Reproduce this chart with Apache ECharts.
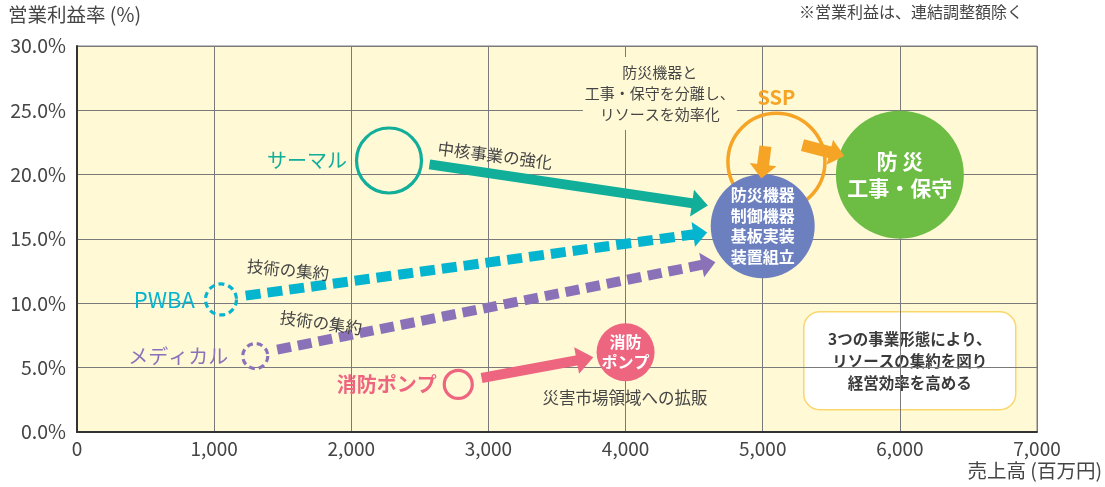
<!DOCTYPE html>
<html>
<head>
<meta charset="utf-8">
<script src="https://cdn.jsdelivr.net/npm/echarts@6/dist/echarts.min.js"></script>
<style>
  html, body { margin: 0; padding: 0; background: #ffffff; }
  #chart { width: 1105px; height: 487px; }
</style>
</head>
<body>
<div id="chart"></div>
<script>
// ---- 事業セグメントの位置：売上高 (百万円) / 営業利益率 (%) ----
const segmentNames  = ['サーマル', 'PWBA', 'メディカル', '消防ポンプ'];
const segmentSales  = [2275, 1050, 1300, 2780];
const segmentMargin = [21.1, 10.3, 5.9, 3.7];

// 集約先の事業形態
const hubNames  = ['防災機器\n制御機器\n基板実装\n装置組立', '防 災\n工事・保守', '消防\nポンプ'];
const hubSales  = [5000, 6000, 4000];
const hubMargin = [16.0, 20.0, 6.2];

// SSP の輪
const sspSales  = [5100];
const sspMargin = [21.0];

// 矢印（始点 → 終点）
const arrowFromSales  = [2570, 1230, 1460, 2950, 5020, 5290];
const arrowFromMargin = [20.8, 10.6, 6.4, 4.2, 22.2, 22.3];
const arrowToSales    = [4600, 4595, 4655, 3765, 4990, 5595];
const arrowToMargin   = [17.6, 15.5, 13.2, 5.8, 19.7, 21.45];

// 目盛
const xTicks = [0, 1000, 2000, 3000, 4000, 5000, 6000, 7000];
const yTicks = [0, 5, 10, 15, 20, 25, 30];

// ---- 見た目 ----
const C = {
  teal: '#11ae9a', cyan: '#05b4cf', purple: '#8b72b8', pink: '#ee6580',
  orange: '#f5a425', blue: '#6c80c0', green: '#6dbd45', text: '#454545',
  plot: '#fff9d6', grid: '#7a7a7a'
};
const FONT = '"Noto Sans CJK JP", "Noto Sans", sans-serif';

const segmentStyles = [
  { color: C.teal,   size: 65, dashed: false, gap: 8,  bold: false, font: 20 },
  { color: C.cyan,   size: 31, dashed: true,  gap: 9,  bold: false, font: 22 },
  { color: C.purple, size: 25, dashed: true,  gap: 13, bold: false, font: 20 },
  { color: C.pink,   size: 28, dashed: false, gap: 6,  bold: true,  font: 20 }
];
const hubStyles = [
  { color: C.blue,  size: 104, fontSize: 16, lineHeight: 20.5, bold: 'bold' },
  { color: C.green, size: 128, fontSize: 21, lineHeight: 27,   bold: 'bold' },
  { color: C.pink,  size: 58,  fontSize: 16, lineHeight: 20,   bold: 'bold' }
];
const arrowStyles = [
  { color: C.teal,   w: 10, hw: 27, hl: 16, dash: null },
  { color: C.cyan,   w: 10, hw: 25, hl: 14, dash: [15, 7] },
  { color: C.purple, w: 10, hw: 25, hl: 14, dash: [14, 7] },
  { color: C.pink,   w: 10, hw: 27, hl: 17, dash: null },
  { color: C.orange, w: 12, hw: 27, hl: 14, dash: null },
  { color: C.orange, w: 12, hw: 26, hl: 15, dash: null }
];

// 矢印に添える説明文など（データ座標で配置）
const notes = [
  { at: [3048, 21.5], text: '中核事業の強化', rot: 7.4, size: 16.5 },
  { at: [1539, 12.6], text: '技術の集約', rot: 5.6, size: 16.5 },
  { at: [1779, 8.5],  text: '技術の集約', rot: 7.8, size: 16.5 },
  { at: [3996, 2.7],  text: '災害市場領域への拡販', rot: 0, size: 16.5 },
  { at: [4250, 26.3], text: '防災機器と\n工事・保守を分離し、\nリソースを効率化', rot: 0, size: 15, lh: 21, bg: true }
];

const chart = echarts.init(document.getElementById('chart'), null, { renderer: 'canvas' });

function arrowItem(params, api) {
  const st = arrowStyles[params.dataIndex];
  const p0 = api.coord([api.value(0), api.value(1)]);
  const p1 = api.coord([api.value(2), api.value(3)]);
  const dx = p1[0] - p0[0], dy = p1[1] - p0[1];
  const len = Math.hypot(dx, dy);
  const ux = dx / len, uy = dy / len, nx = -uy, ny = ux;
  const bx = p1[0] - ux * st.hl, by = p1[1] - uy * st.hl;
  return {
    type: 'group',
    children: [
      {
        type: 'line',
        shape: { x1: p0[0], y1: p0[1], x2: bx + ux, y2: by + uy },
        style: { stroke: st.color, lineWidth: st.w, lineDash: st.dash, lineCap: 'butt' }
      },
      {
        type: 'polygon',
        shape: { points: [[p1[0], p1[1]], [bx + nx * st.hw / 2, by + ny * st.hw / 2], [bx - nx * st.hw / 2, by - ny * st.hw / 2]] },
        style: { fill: st.color }
      }
    ]
  };
}

function noteItem(params, api) {
  const n = notes[params.dataIndex];
  const p = api.coord([api.value(0), api.value(1)]);
  return {
    type: 'text',
    x: p[0], y: p[1],
    rotation: -n.rot * Math.PI / 180,
    style: {
      text: n.text,
      x: 0, y: 0,
      align: 'center', verticalAlign: 'middle',
      font: `${n.size}px ${FONT}`,
      fill: C.text,
      lineHeight: n.lh || n.size * 1.3,
      backgroundColor: n.bg ? C.plot : null,
      padding: n.bg ? [4, 2, 6, 2] : 0
    }
  };
}

const option = {
  animation: false,
  backgroundColor: '#ffffff',
  textStyle: { fontFamily: FONT },
  grid: {
    left: 77, right: 68, top: 46, bottom: 55,
    show: true, backgroundColor: C.plot, borderColor: C.grid, borderWidth: 1
  },
  xAxis: {
    type: 'value', min: xTicks[0], max: xTicks[xTicks.length - 1], interval: 1000,
    axisLine: { show: true, lineStyle: { color: '#333', width: 2 } },
    axisTick: { show: false },
    splitLine: { show: true, lineStyle: { color: C.grid, width: 1 } },
    axisLabel: {
      color: C.text, fontSize: 19, margin: 7, fontFamily: FONT,
      formatter: v => v.toLocaleString('en-US')
    }
  },
  yAxis: {
    type: 'value', min: yTicks[0], max: yTicks[yTicks.length - 1], interval: 5,
    axisLine: { show: true, lineStyle: { color: '#333', width: 2 } },
    axisTick: { show: false },
    splitLine: { show: true, lineStyle: { color: C.grid, width: 1 } },
    axisLabel: {
      color: C.text, fontSize: 19.5, margin: 11, fontFamily: FONT,
      formatter: v => v.toFixed(1) + '%'
    }
  },
  graphic: [
    { type: 'text', left: 8, top: 5, style: { text: '営業利益率 (%)', font: `19.5px ${FONT}`, fill: C.text } },
    { type: 'text', right: 3, top: 461, style: { text: '売上高 (百万円)', font: `19.5px ${FONT}`, fill: C.text } },
    { type: 'text', left: 799, top: 4, style: { text: '※営業利益は、連結調整額除く', font: `16px ${FONT}`, fill: C.text } },
    {
      type: 'group', left: 803, top: 311, z: 20,
      children: [
        { type: 'rect', shape: { x: 0, y: 0, width: 212, height: 98, r: 16 },
          style: { fill: '#ffffff', stroke: '#f9d76a', lineWidth: 1.5 } },
        { type: 'text', x: 106, y: 49,
          style: { text: '3つの事業形態により、\nリソースの集約を図り\n経営効率を高める',
            align: 'center', verticalAlign: 'middle', font: `bold 15.5px ${FONT}`,
            fill: '#3a3a3a', lineHeight: 22 } }
      ]
    }
  ],
  series: [
    {
      name: 'SSP', type: 'scatter', z: 2,
      symbol: 'circle', symbolSize: 97,
      data: sspSales.map((x, i) => [x, sspMargin[i]]),
      itemStyle: { color: 'rgba(0,0,0,0)', borderColor: C.orange, borderWidth: 3.5, opacity: 1 },
      label: { show: true, position: 'top', distance: 4, formatter: 'SSP',
        color: C.orange, fontSize: 20, fontWeight: 'bold', fontFamily: FONT },
      emphasis: { disabled: true }
    },
    {
      name: 'hubs', type: 'scatter', z: 3,
      symbol: 'circle',
      data: hubNames.map((n, i) => ({
        value: [hubSales[i], hubMargin[i]],
        symbolSize: hubStyles[i].size,
        itemStyle: { color: hubStyles[i].color, opacity: 1 },
        label: {
          show: true, position: 'inside', formatter: n, color: '#ffffff',
          fontSize: hubStyles[i].fontSize, lineHeight: hubStyles[i].lineHeight,
          fontWeight: hubStyles[i].bold, fontFamily: FONT
        }
      })),
      emphasis: { disabled: true }
    },
    {
      name: 'segments', type: 'scatter', z: 3,
      symbol: 'circle',
      data: segmentNames.map((n, i) => ({
        value: [segmentSales[i], segmentMargin[i]],
        symbolSize: segmentStyles[i].size,
        itemStyle: {
          color: 'rgba(0,0,0,0)', borderColor: segmentStyles[i].color, opacity: 1,
          borderWidth: 3.2, borderType: segmentStyles[i].dashed ? [6, 4] : 'solid'
        },
        label: {
          show: true, position: 'left', distance: segmentStyles[i].gap, formatter: n,
          color: segmentStyles[i].color, fontSize: segmentStyles[i].font,
          fontWeight: segmentStyles[i].bold ? 'bold' : 'normal', fontFamily: FONT
        }
      })),
      emphasis: { disabled: true }
    },
    {
      name: 'arrows', type: 'custom', z: 5,
      renderItem: arrowItem,
      data: arrowFromSales.map((x, i) => [x, arrowFromMargin[i], arrowToSales[i], arrowToMargin[i]]),
      silent: true
    },
    {
      name: 'notes', type: 'custom', z: 6,
      renderItem: noteItem,
      data: notes.map(n => n.at),
      silent: true
    }
  ]
};

chart.setOption(option);
</script>
</body>
</html>
